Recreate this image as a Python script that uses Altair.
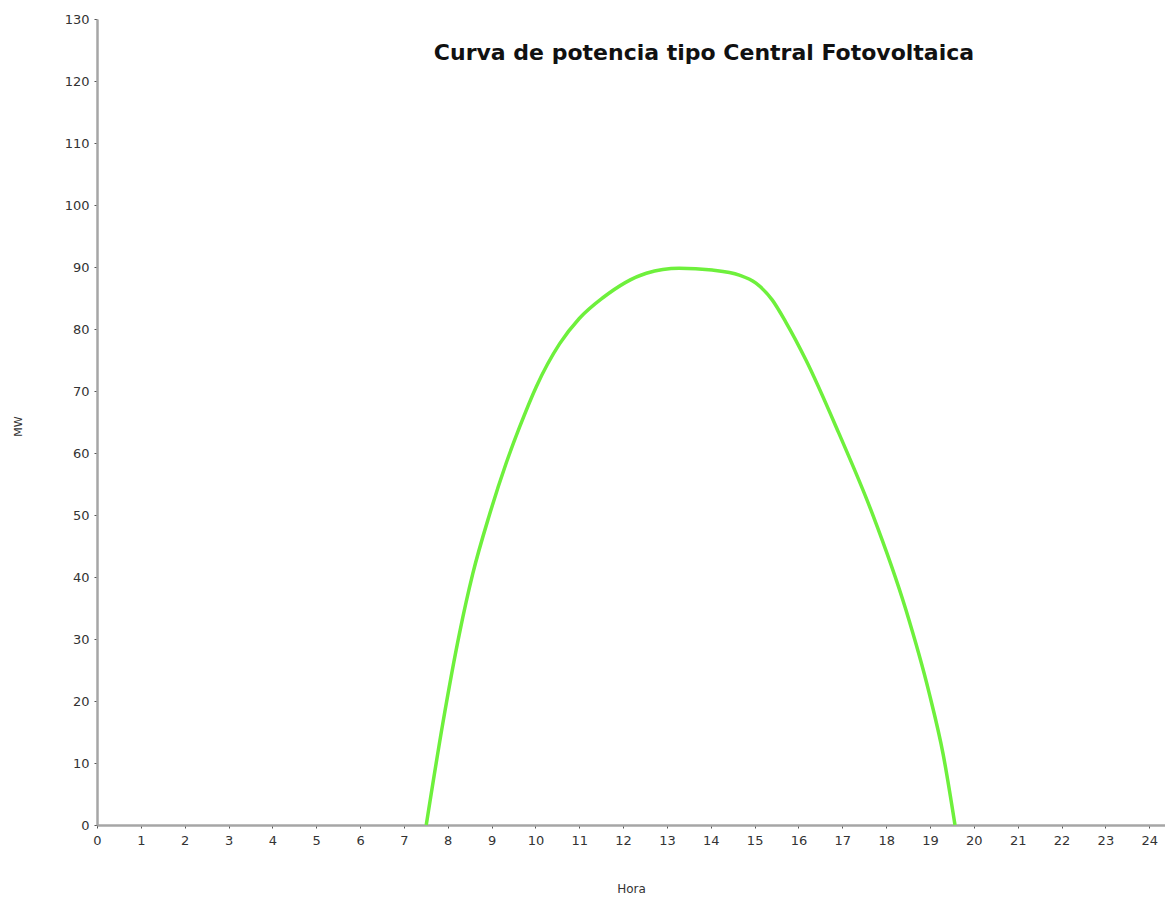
import altair as alt
import pandas as pd

# Curve (hour, MW)
hours = [7.51, 7.89, 8.27, 8.57, 8.95, 9.33, 9.64, 10.02, 10.55, 11.0, 11.53,
         12.53, 13.28, 14.03, 14.65, 15.03, 15.4, 15.72, 16.17, 16.92, 17.68,
         18.45, 18.98, 19.3, 19.57]
mw = [0, 16.5, 31, 40.5, 50, 58.3, 64.2, 70.7, 77.6, 81.7, 85,
      89, 89.8, 89.5, 88.7, 87.4, 84.7, 81, 75, 63.2, 50.3,
      34.7, 21.3, 11.4, 0]

x_ticks = list(range(0, 25))
y_ticks = list(range(0, 131, 10))

df = pd.DataFrame({"Hora": hours, "MW": mw})

font = "DejaVu Sans"

chart = alt.Chart(df).mark_line(
    color="#6ef03c", strokeWidth=3.5, interpolate="monotone"
).encode(
    x=alt.X("Hora:Q",
            scale=alt.Scale(domain=[0, 24.36], nice=False, zero=False),
            axis=alt.Axis(values=x_ticks, title="Hora", grid=False,
                          labelFont=font, labelFontSize=13, labelColor="#333333",
                          labelPadding=6, tickSize=3, tickColor="#555555",
                          domainColor="#a6a6a6", domainWidth=2.5,
                          titleFont=font, titleFontSize=12, titleFontWeight="normal",
                          titleColor="#333333", titleY=67, titleBaseline="alphabetic",
                          labelFlush=False)),
    y=alt.Y("MW:Q",
            scale=alt.Scale(domain=[0, 130], nice=False),
            axis=alt.Axis(values=y_ticks, title="MW", grid=False,
                          labelFont=font, labelFontSize=13, labelColor="#333333",
                          labelPadding=5, tickSize=3, tickColor="#555555",
                          domainColor="#a6a6a6", domainWidth=2.5,
                          titleFont=font, titleFontSize=11, titleFontWeight="normal",
                          titleColor="#333333", titleX=-79, titleY=407,
                          titleAlign="center", titleBaseline="middle",
                          labelFlush=False)),
).properties(
    width=1068,
    height=806,
    title=alt.TitleParams(
        text="Curva de potencia tipo Central Fotovoltaica",
        font=font, fontSize=22, fontWeight="bold", color="#111111",
        anchor="middle", dx=73, dy=29, offset=-33, baseline="middle",
    ),
    autosize=alt.AutoSizeParams(type="none"),
    padding={"left": 89, "top": 11, "right": 0, "bottom": 70},
).configure_view(stroke=None)

chart.save("out.html", embed_options={"renderer": "svg", "actions": False})
